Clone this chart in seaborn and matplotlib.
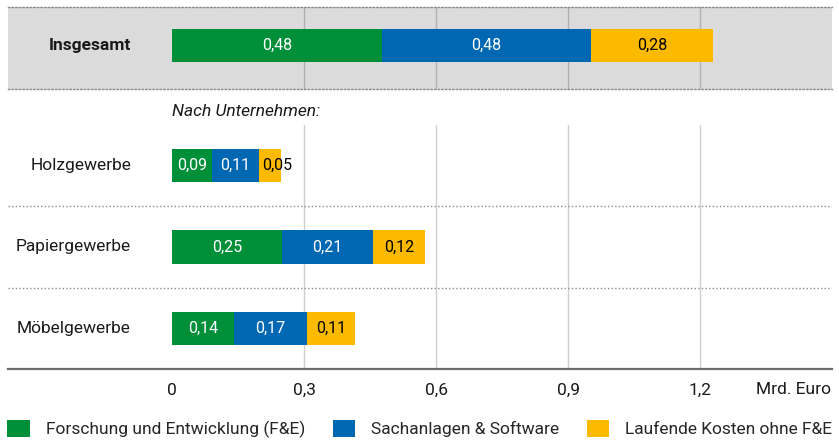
import matplotlib
matplotlib.use("Agg")
import matplotlib.pyplot as plt
from matplotlib.patches import Patch
import seaborn as sns
import pandas as pd

# ---------------- data ----------------
total_label = ["Insgesamt"]
companies = ["Holzgewerbe", "Papiergewerbe", "Möbelgewerbe"]
series_names = ["Forschung und Entwicklung (F&E)", "Sachanlagen & Software", "Laufende Kosten ohne F&E"]
fue_total = [0.477]
sach_total = [0.476]
lauf_total = [0.277]
fue = [0.091, 0.249, 0.140]
sach = [0.107, 0.207, 0.167]
lauf = [0.050, 0.120, 0.109]
tick_values = [0, 0.3, 0.6, 0.9, 1.2]
tick_labels = ["0", "0,3", "0,6", "0,9", "1,2"]
unit_label = "Mrd. Euro"
section_label = "Nach Unternehmen:"

colors = ["#008F39", "#0067B3", "#FBB900"]
label_colors = ["white", "white", "black"]

sns.set_theme(style="white")
plt.rcParams["font.family"] = ["Roboto", "DejaVu Sans"]

FS = 12.5
W, H = 839, 441
fig = plt.figure(figsize=(W / 100, H / 100), dpi=100)

left_px, right_px = 8, 832
x0_px, scale = 172, 440.0
xlim = ((left_px - x0_px) / scale, (right_px - x0_px) / scale)


def axes_at(top_px, bottom_px):
    return fig.add_axes([left_px / W, 1 - bottom_px / H,
                         (right_px - left_px) / W, (bottom_px - top_px) / H])


def stacked(ax, cats, a, b, c, width, fs, bold):
    df = pd.DataFrame({"cat": cats, "a": a, "b": b, "c": c})
    df["ab"] = df["a"] + df["b"]
    df["abc"] = df["ab"] + df["c"]
    for col, colr in zip(["abc", "ab", "a"], colors[::-1]):
        sns.barplot(data=df, x=col, y="cat", orient="h", color=colr, saturation=1,
                    width=width, errorbar=None, linewidth=0, ax=ax, zorder=3)
    for i, row in df.iterrows():
        starts = [0, row["a"], row["ab"]]
        vals = [row["a"], row["b"], row["c"]]
        for s, v, tc in zip(starts, vals, label_colors):
            txt = f"{v:.2f}".replace(".", ",")
            if v < 0.07:
                ax.text(s + 0.006, i, txt, ha="left", va="center", color=tc,
                        fontsize=fs, zorder=5)
            else:
                ax.text(s + v / 2, i, txt, ha="center", va="center", color=tc,
                        fontsize=fs, zorder=5)
        ax.text((131 - x0_px) / scale, i, row["cat"], ha="right", va="center",
                fontsize=FS, fontweight="bold" if bold else "normal",
                color="#1a1a1a")
    ax.set_xlim(*xlim)
    ax.set_xlabel("")
    ax.set_ylabel("")
    ax.set_yticks([])


dot = (0, (1, 1.6))

# --------- top band (Insgesamt) ---------
ax_top = axes_at(7, 89)
ax_top.set_facecolor("#DBDBDB")
stacked(ax_top, total_label, fue_total, sach_total, lauf_total, 0.431, 11.5, True)
ax_top.set_ylim(0.571, -0.5)
ax_top.set_xticks(tick_values[1:])
ax_top.set_xticklabels([])
ax_top.tick_params(axis="x", length=0)
ax_top.grid(axis="x", color="#B0B0B0", linewidth=1)
ax_top.set_axisbelow(True)
for s in ["left", "right"]:
    ax_top.spines[s].set_visible(False)
for s in ["top", "bottom"]:
    ax_top.spines[s].set_linestyle(dot)
    ax_top.spines[s].set_color("#8A8A8A")
    ax_top.spines[s].set_linewidth(1)

# --------- companies ---------
ax = axes_at(125, 369)
stacked(ax, companies, fue, sach, lauf, 0.406, 11.5, False)
ax.set_ylim(2.5, -0.5)
ax.set_xticks(tick_values)
ax.set_xticklabels(tick_labels, fontsize=FS, color="#1a1a1a")
ax.tick_params(axis="x", length=0, pad=10)
ax.grid(axis="x", color="#CFCFCF", linewidth=1)
ax.xaxis.get_major_ticks()[0].gridline.set_visible(False)
ax.set_axisbelow(True)
for s in ["left", "right", "top"]:
    ax.spines[s].set_visible(False)
ax.spines["bottom"].set_color("#6E6E6E")
ax.spines["bottom"].set_linewidth(1.6)
for yb in [0.5, 1.5]:
    ax.axhline(yb, color="#8A8A8A", linewidth=1, linestyle=dot, zorder=1)

fig.text(172 / W, 1 - 112 / H, section_label, ha="left", va="center",
         fontsize=FS, fontstyle="italic", color="#1a1a1a")
fig.text(831 / W, 1 - 390 / H, unit_label, ha="right", va="center",
         fontsize=FS, color="#1a1a1a")

handles = [Patch(facecolor=c, edgecolor="none", label=n) for c, n in zip(colors, series_names)]
fig.legend(handles=handles, loc="center left", bbox_to_anchor=(4 / W, 1 - 429 / H),
           ncol=3, frameon=False, fontsize=FS, handlelength=1.3, handleheight=1.1,
           handletextpad=0.9, columnspacing=1.6, borderaxespad=0, borderpad=0.2)

fig.savefig("out.png", dpi=100)
